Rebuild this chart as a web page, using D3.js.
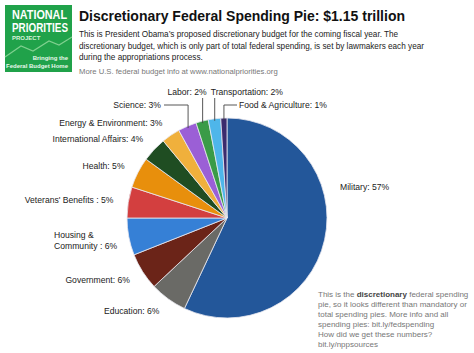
<!DOCTYPE html>
<html>
<head>
<meta charset="utf-8">
<script src="https://cdn.jsdelivr.net/npm/d3@7"></script>
<style>
  body { margin: 0; background: #fff; }
  svg { font-family: "Liberation Sans", Arial, sans-serif; display: block; }
</style>
</head>
<body>
<div id="chart"></div>
<script>
// slices, clockwise from 12 o'clock
var categories = ["Military", "Education", "Government", "Housing & Community", "Veterans' Benefits",
  "Health", "International Affairs", "Energy & Environment", "Science", "Labor",
  "Transportation", "Food & Agriculture"];
var shares = [57, 6, 6, 6, 5, 5, 4, 3, 3, 2, 2, 1];
var labels = ["Military:  57%", "Education:  6%", "Government:  6%", ["Housing &", "Community : 6%"],
  "Veterans' Benefits : 5%", "Health:  5%", "International  Affairs:  4%", "Energy & Environment:  3%",
  "Science:  3%", "Labor:  2%", "Transportation:  2%", "Food & Agriculture:  1%"];
var colors = ["#23579a", "#6a6a66", "#6b2418", "#3680d6", "#d33f3f", "#e88f0c",
  "#1f4d22", "#f0b03c", "#9b5fd6", "#3a9b48", "#4eb6ea", "#3b2c6e"];

var width = 474, height = 353;
var cx = 227, cy = 218, r = 100;

var svg = d3.select("#chart").append("svg")
  .attr("width", width)
  .attr("height", height);

//** logo **//
var logo = svg.append("g").attr("transform", "translate(5,5)");
logo.append("rect").attr("width", 67).attr("height", 67).attr("fill", "#20a24a");
logo.append("path")
  .attr("d", "M0,52 L16,41 L28,46 L44,36 L54,40 L67,32")
  .attr("fill", "none").attr("stroke", "#7fd08f").attr("stroke-width", 1.2);
logo.append("text").attr("x", 7).attr("y", 14).text("NATIONAL")
  .attr("font-size", 12).attr("font-weight", "bold").attr("fill", "#fff")
  .attr("textLength", 55).attr("lengthAdjust", "spacingAndGlyphs");
logo.append("text").attr("x", 7).attr("y", 27).text("PRIORITIES")
  .attr("font-size", 12).attr("font-weight", "bold").attr("fill", "#fff")
  .attr("textLength", 56).attr("lengthAdjust", "spacingAndGlyphs");
logo.append("text").attr("x", 7).attr("y", 35).text("PROJECT")
  .attr("font-size", 6).attr("font-weight", "bold").attr("fill", "#d8f2dc");
logo.append("text").attr("x", 63).attr("y", 55).text("Bringing the")
  .attr("font-size", 6).attr("font-weight", "bold").attr("fill", "#e8f8ea").attr("text-anchor", "end");
logo.append("text").attr("x", 63).attr("y", 63).text("Federal Budget Home")
  .attr("font-size", 6).attr("font-weight", "bold").attr("fill", "#e8f8ea").attr("text-anchor", "end");

//** header text **//
svg.append("text").attr("x", 79).attr("y", 21)
  .text("Discretionary Federal Spending Pie: $1.15 trillion")
  .attr("font-size", 14).attr("font-weight", "bold").attr("fill", "#111");

var intro = ["This is President Obama\u2019s proposed discretionary budget for the coming fiscal year. The",
  "discretionary budget, which is only part of total federal spending, is set by lawmakers each year",
  "during the appropriations process."];
svg.append("g").selectAll("text")
  .data(intro)
  .enter()
  .append("text")
  .attr("x", 79)
  .attr("y", function(d, i) { return 37 + 11.5 * i; })
  .attr("font-size", 8.2)
  .attr("fill", "#222")
  .text(function(d) { return d; });

svg.append("text").attr("x", 79).attr("y", 74)
  .text("More U.S. federal budget info at www.nationalpriorities.org")
  .attr("font-size", 7.7).attr("fill", "#777");

//** the pie **//
var pie = d3.pie().sort(null).value(function(d) { return d; });
var arcs = pie(shares);
var arc = d3.arc().innerRadius(0).outerRadius(r);
var labelArc = d3.arc().innerRadius(115).outerRadius(115);

var g = svg.append("g").attr("transform", "translate(" + cx + "," + cy + ")");

g.selectAll("path")
  .data(arcs)
  .enter()
  .append("path")
  .attr("d", arc)
  .attr("fill", function(d, i) { return colors[i]; })
  .attr("stroke", "#e8e8f0")
  .attr("stroke-width", 0.8);

//** labels **//
var labelSize = 8.6, labelColor = "#222";

// big slices on the left side: text ends next to the pie
var sideIdx = [1, 2, 3, 4, 5, 6, 7];
sideIdx.forEach(function(i) {
  var c = labelArc.centroid(arcs[i]);
  var lines = Array.isArray(labels[i]) ? labels[i] : [labels[i]];
  var multi = lines.length > 1;
  var t = g.append("text")
    .attr("y", c[1])
    .attr("text-anchor", multi ? "start" : "end")
    .attr("font-size", labelSize)
    .attr("fill", labelColor);
  t.selectAll("tspan")
    .data(lines)
    .enter()
    .append("tspan")
    .attr("x", multi ? c[0] - 60 : c[0])
    .attr("dy", function(d, k) { return k === 0 ? (multi ? -2 : 3) : 11; })
    .text(function(d) { return d; });
});

// military label sits to the right of the pie
g.append("text")
  .attr("x", r + 13)
  .attr("y", -28)
  .attr("font-size", labelSize)
  .attr("fill", labelColor)
  .text(labels[0]);

// the thin slices at the top get leader lines
var topRow = -cy + 95, secondRow = -cy + 108;
var leaders = [
  { i: 8, row: secondRow, dir: -1, textX: -66 },
  { i: 9, row: topRow, dir: 0 },
  { i: 10, row: topRow, dir: 0 },
  { i: 11, row: secondRow, dir: 1, textX: 12 }
];
leaders.forEach(function(l) {
  var a = (arcs[l.i].startAngle + arcs[l.i].endAngle) / 2;
  var px = Math.sin(a) * (r - 2), py = -Math.cos(a) * (r - 2);
  var pts;
  if (l.dir === 0) {
    pts = [[px, py], [px, l.row + 3]];
  } else {
    var endX = l.dir < 0 ? l.textX + 3 : l.textX - 2;
    pts = [[px, py], [px, l.row - 3], [endX, l.row - 3]];
  }
  g.append("path")
    .attr("d", d3.line()(pts))
    .attr("fill", "none")
    .attr("stroke", "#444")
    .attr("stroke-width", 0.9);
  var t = g.append("text")
    .attr("y", l.row)
    .attr("font-size", labelSize)
    .attr("fill", labelColor)
    .text(labels[l.i]);
  if (l.dir < 0) t.attr("x", l.textX).attr("text-anchor", "end");
  else if (l.dir > 0) t.attr("x", l.textX);
  else if (l.i === 10) t.attr("x", px - 4);
  else t.attr("x", px + 4).attr("text-anchor", "end");
});

//** footnote **//
var note = svg.append("text")
  .attr("x", 318)
  .attr("y", 297)
  .attr("font-size", 8)
  .attr("fill", "#777");
var noteLines = [
  [["This is the ", false], ["discretionary", true], [" federal spending", false]],
  [["pie, so it looks different than mandatory or", false]],
  [["total spending pies. More info and all", false]],
  [["spending pies: bit.ly/fedspending", false]],
  [["How did we get these numbers?", false]],
  [["bit.ly/nppsources", false]]
];
noteLines.forEach(function(line, k) {
  line.forEach(function(part, j) {
    var ts = note.append("tspan").text(part[0]);
    if (j === 0) ts.attr("x", 318).attr("dy", k === 0 ? 0 : 10);
    if (part[1]) ts.attr("font-weight", "bold").attr("fill", "#444");
  });
});
</script>
</body>
</html>
